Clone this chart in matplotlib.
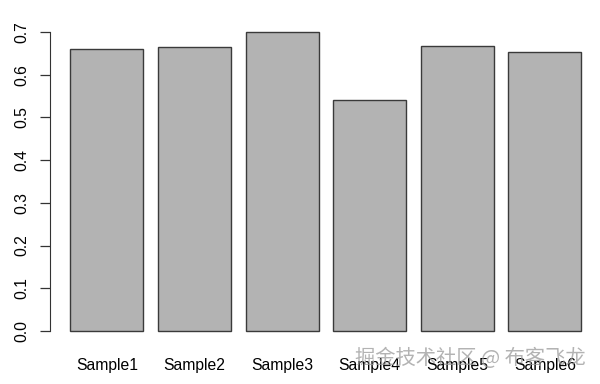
import matplotlib
matplotlib.use('Agg')
import matplotlib.pyplot as plt
import numpy as np

samples = ['Sample1', 'Sample2', 'Sample3', 'Sample4', 'Sample5', 'Sample6']
values = [0.661, 0.664, 0.701, 0.540, 0.668, 0.652]
yticks = [0.0, 0.1, 0.2, 0.3, 0.4, 0.5, 0.6, 0.7]

plt.rcParams['font.family'] = ['Liberation Sans', 'DejaVu Sans']

fig = plt.figure(figsize=(6, 3.84), dpi=100)
# R style barplot: width 1, space 0.2
ax = fig.add_axes([50 / 600, (384 - 343) / 384, 550 / 600, (343 - 20) / 384])
x = 0.2 + np.arange(len(samples)) * 1.2 + 0.5
ax.bar(x, values, width=1.0, color='#b3b3b3', edgecolor='#3a3a3a', linewidth=1.0)

ax.set_xlim(-0.08, -0.08 + 550 / 73)
ax.set_ylim(-0.028, 0.728)
for s in ['top', 'right', 'bottom']:
    ax.spines[s].set_visible(False)
ax.spines['left'].set_bounds(0, 0.7)
ax.spines['left'].set_color('#333333')

ax.set_yticks(yticks)
ax.set_yticklabels(['%.1f' % v for v in yticks], rotation=90, va='center', fontsize=11.3)
ax.tick_params(axis='y', length=7.2, width=0.9, pad=8, colors='#333333', labelcolor='black')
ax.set_xticks(x)
ax.set_xticklabels(samples, fontsize=11.3)
ax.tick_params(axis='x', length=0, pad=11)

# watermark
fig.text(470 / 600, 1 - 358 / 384, '掘金技术社区 @ 布客飞龙', ha='center', va='center',
         fontsize=14.6, color='#9a9a9a', alpha=0.75,
         family=['Noto Sans CJK SC', 'DejaVu Sans'])

fig.savefig('out.png', dpi=100)
